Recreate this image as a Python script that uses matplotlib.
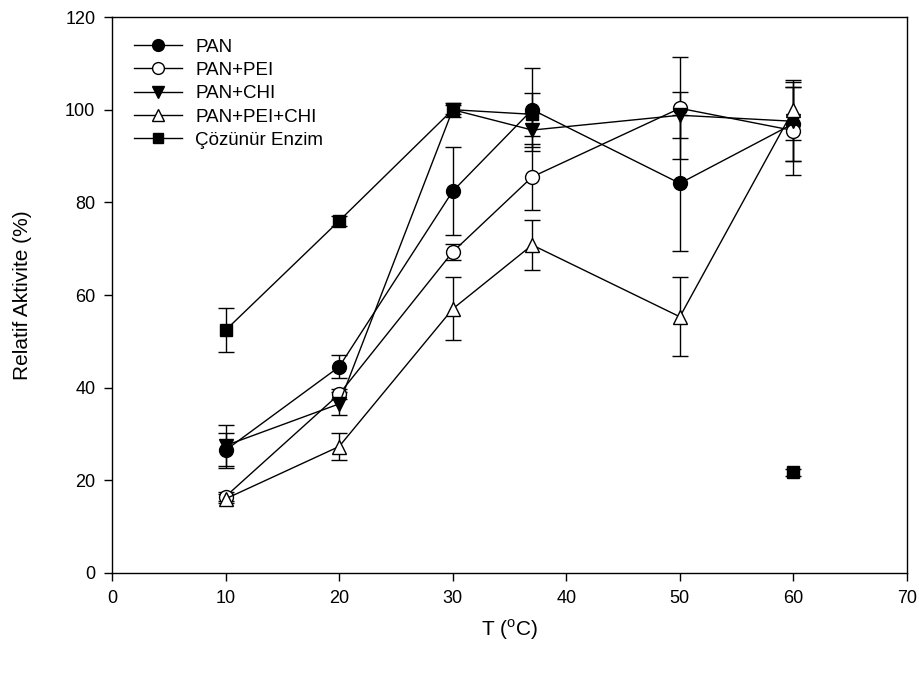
import numpy as np
import matplotlib
matplotlib.use("Agg")
import matplotlib.pyplot as plt

plt.rcParams['font.family'] = ['Liberation Sans', 'DejaVu Sans']
plt.rcParams['mathtext.fontset'] = 'custom'
plt.rcParams['mathtext.rm'] = 'Liberation Sans'

T = [10, 20, 30, 37, 50, 60]

pan = [26.5, 44.5, 82.4, 100.0, 84.1, 97.0]
pan_err = [3.8, 2.5, 9.5, 9.0, 14.7, 8.0]

pan_pei = [16.5, 38.6, 69.3, 85.5, 100.3, 95.5]
pan_pei_err = [1.0, 1.1, 1.7, 7.2, 11.0, 9.5]

pan_chi = [27.5, 36.5, 100.0, 95.6, 98.8, 97.5]
pan_chi_err = [4.5, 2.5, 1.0, 3.7, 5.0, 8.5]

pan_pei_chi = [16.0, 27.3, 57.0, 70.8, 55.3, 100.0]
pan_pei_chi_err = [1.0, 3.0, 6.8, 5.3, 8.5, 6.5]

enzim = [52.4, 76.0, 100.0, 99.0, np.nan, 21.7]
enzim_err = [4.8, 1.0, 1.5, 4.7, np.nan, 0.8]

labels = ['PAN', 'PAN+PEI', 'PAN+CHI', 'PAN+PEI+CHI', 'Çözünür Enzim']

fig = plt.figure(figsize=(9.2, 6.73), dpi=100)
ax = fig.add_axes([0.1217, 0.1486, 0.8642, 0.8261])

common = dict(color='black', lw=1.0, ecolor='black', elinewidth=1.0,
              capsize=6, capthick=1.0, markeredgecolor='black',
              markeredgewidth=1.0)

ax.errorbar(T, pan, yerr=pan_err, marker='o', ms=10, mfc='black',
            label=labels[0], **common)
ax.errorbar(T, pan_pei, yerr=pan_pei_err, marker='o', ms=10, mfc='white',
            label=labels[1], **common)
ax.errorbar(T, pan_chi, yerr=pan_chi_err, marker='v', ms=10, mfc='black',
            label=labels[2], **common)
ax.errorbar(T, pan_pei_chi, yerr=pan_pei_chi_err, marker='^', ms=10, mfc='white',
            label=labels[3], **common)
ax.errorbar(T, enzim, yerr=enzim_err, marker='s', ms=9, mfc='black',
            label=labels[4], **common)

ax.set_xlim(0, 70)
ax.set_ylim(0, 120)
ax.set_xticks(np.arange(0, 71, 10))
ax.set_yticks(np.arange(0, 121, 20))
ax.tick_params(direction='out', length=6, width=1, labelsize=13, pad=6,
               top=False, right=False)
for s in ax.spines.values():
    s.set_linewidth(1.0)

ax.set_xlabel(r'T ($^{\mathrm{o}}$C)', fontsize=15, labelpad=8)
ax.set_ylabel('Relatif Aktivite (%)', fontsize=15, labelpad=24)

handles, lbls = ax.get_legend_handles_labels()
handles = [h[0] for h in handles]
ax.legend(handles, lbls, loc='upper left', frameon=False, fontsize=13.5,
          handlelength=2.6, handletextpad=0.7, labelspacing=0.33,
          borderaxespad=0.55, borderpad=0.6, markerscale=0.85)

fig.savefig('out.png', dpi=100)
